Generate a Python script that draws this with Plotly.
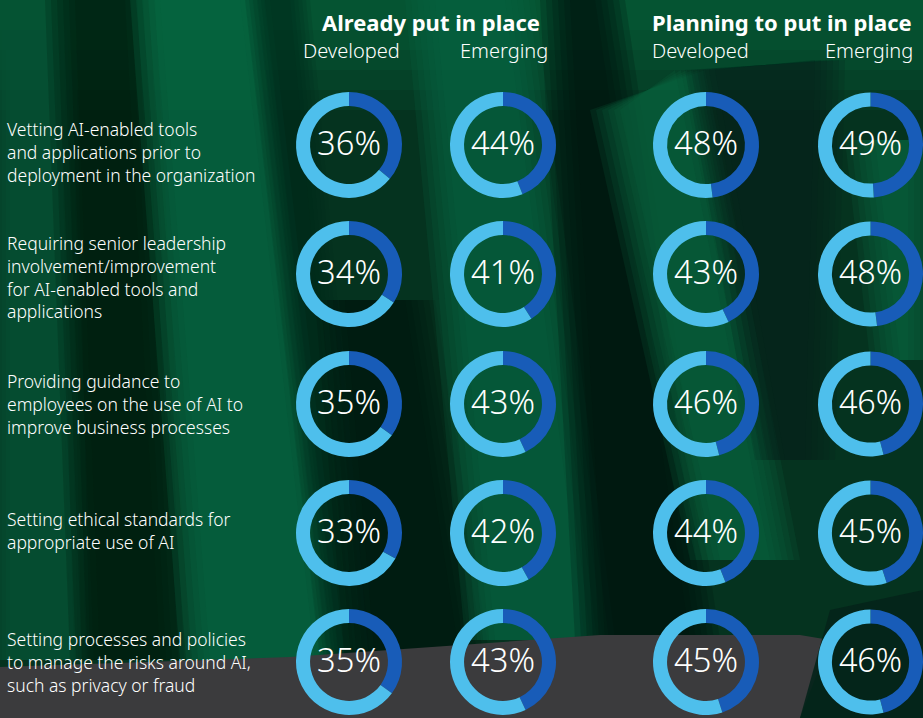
import plotly.graph_objects as go

categories = [
    "Vetting AI-enabled tools<br>and applications prior to<br>deployment in the organization",
    "Requiring senior leadership<br>involvement/improvement<br>for AI-enabled tools and<br>applications",
    "Providing guidance to<br>employees on the use of AI to<br>improve business processes",
    "Setting ethical standards for<br>appropriate use of AI",
    "Setting processes and policies<br>to manage the risks around AI,<br>such as privacy or fraud",
]
already_developed = [36, 34, 35, 33, 35]
already_emerging = [44, 41, 43, 42, 43]
planning_developed = [48, 43, 46, 44, 45]
planning_emerging = [49, 48, 46, 45, 46]

group_titles = ["Already put in place", "Planning to put in place"]
sub_titles = ["Developed", "Emerging", "Developed", "Emerging"]

W, H = 923, 718
DARK = "#185cb8"
LIGHT = "#4ebfec"
FONT = "Noto Sans"

col_x = [349, 503, 706, 871]
row_y = [145, 274, 404, 533, 662]
R = 53

series = [already_developed, already_emerging, planning_developed, planning_emerging]

fig = go.Figure()
for ci, vals in enumerate(series):
    for ri, v in enumerate(vals):
        cx, cy = col_x[ci], row_y[ri]
        fig.add_trace(go.Pie(
            values=[v, 100 - v],
            sort=False,
            direction="clockwise",
            rotation=0,
            hole=0.735,
            marker=dict(colors=[DARK, LIGHT], line=dict(width=0)),
            textinfo="none",
            hoverinfo="skip",
            showlegend=False,
            title=dict(text=f"{v}%", position="middle center",
                       font=dict(family=FONT, size=33, color="white", weight=300)),
            domain=dict(x=[max(0, (cx - R) / W), min(1, (cx + R) / W)],
                        y=[max(0, 1 - (cy + R) / H), min(1, 1 - (cy - R) / H)]),
        ))

annotations = []
label_y = [151.5, 277, 404, 530.5, 661.5]
for txt, y in zip(categories, label_y):
    annotations.append(dict(x=6 / W, y=1 - y / H, xref="paper", yref="paper",
                            text=txt, showarrow=False, xanchor="left", yanchor="middle",
                            align="left", borderpad=0,
                            font=dict(family=FONT, size=17.5, color="white", weight=300)))
for txt, x in zip(group_titles, [431, 782]):
    annotations.append(dict(x=x / W, y=1 - 22 / H, xref="paper", yref="paper", text=f"<b>{txt}</b>",
                            showarrow=False, xanchor="center", yanchor="middle",
                            font=dict(family=FONT, size=22, color="white")))
for txt, x in zip(sub_titles, [351, 504, 700, 869]):
    annotations.append(dict(x=x / W, y=1 - 50 / H, xref="paper", yref="paper", text=txt,
                            showarrow=False, xanchor="center", yanchor="middle",
                            font=dict(family=FONT, size=20, color="white", weight=300)))


def path_of(pts):
    return "M " + " L ".join(f"{x/W},{1-y/H}" for x, y in pts) + " Z"


def soft_band(pts, color, opacity, blur=24, k=6):
    out = []
    (x1, y1), (x2, y2), (x3, y3), (x4, y4) = pts
    for i in range(k):
        d = blur * (i - (k - 1) / 2) / k
        p = [(x1 + d, y1), (x2 - d, y2), (x3 - d, y3), (x4 + d, y4)]
        out.append(dict(type="path", xref="paper", yref="paper", path=path_of(p),
                        fillcolor=color, line=dict(width=0), opacity=min(1, opacity / k * 1.8),
                        layer="below"))
    return out


def solid(pts, color, opacity=1.0):
    return [dict(type="path", xref="paper", yref="paper", path=path_of(pts),
                 fillcolor=color, line=dict(width=0), opacity=opacity, layer="below")]


shapes = []
for h in [110, 90, 70, 50, 30]:
    shapes += solid([(0, 0), (923, 0), (923, h), (0, h)], "#0a7a4e", 0.12)
shapes += soft_band([(0, 0), (65, 0), (80, 660), (0, 660)], "#0a5538", 0.8)
shapes += soft_band([(60, 0), (140, 0), (175, 660), (85, 660)], "#021a10", 0.7, blur=36)
shapes += soft_band([(145, 0), (255, 0), (330, 660), (195, 660)], "#0a6a43", 0.8, blur=36)
shapes += soft_band([(255, 0), (300, 0), (360, 660), (330, 660)], "#03261a", 0.5)
shapes += soft_band([(330, 300), (420, 300), (475, 660), (360, 660)], "#02140c", 0.55, blur=36)
shapes += soft_band([(420, 0), (520, 0), (600, 640), (480, 640)], "#0a6542", 0.7, blur=36)
shapes += soft_band([(555, 0), (610, 0), (705, 640), (590, 640)], "#02140c", 0.7, blur=36)
shapes += soft_band([(605, 110), (690, 70), (785, 560), (705, 560)], "#0a6a44", 0.6, blur=36)
shapes += soft_band([(700, 70), (830, 60), (820, 460), (770, 460)], "#03231a", 0.6, blur=36)
shapes += soft_band([(860, 140), (923, 140), (923, 360), (885, 360)], "#0a6a44", 0.6, blur=36)
shapes += solid([(0, 667), (290, 657), (600, 635), (800, 635), (830, 640), (800, 718), (0, 718)], "#3b3b3d", 1.0)
shapes += solid([(830, 610), (923, 590), (923, 718), (800, 718)], "#04231a", 0.9)

fig.update_layout(
    width=W, height=H,
    margin=dict(l=0, r=0, t=0, b=0),
    paper_bgcolor="#05331f",
    plot_bgcolor="rgba(0,0,0,0)",
    annotations=annotations,
    shapes=shapes,
)

fig.write_html("out.html")
